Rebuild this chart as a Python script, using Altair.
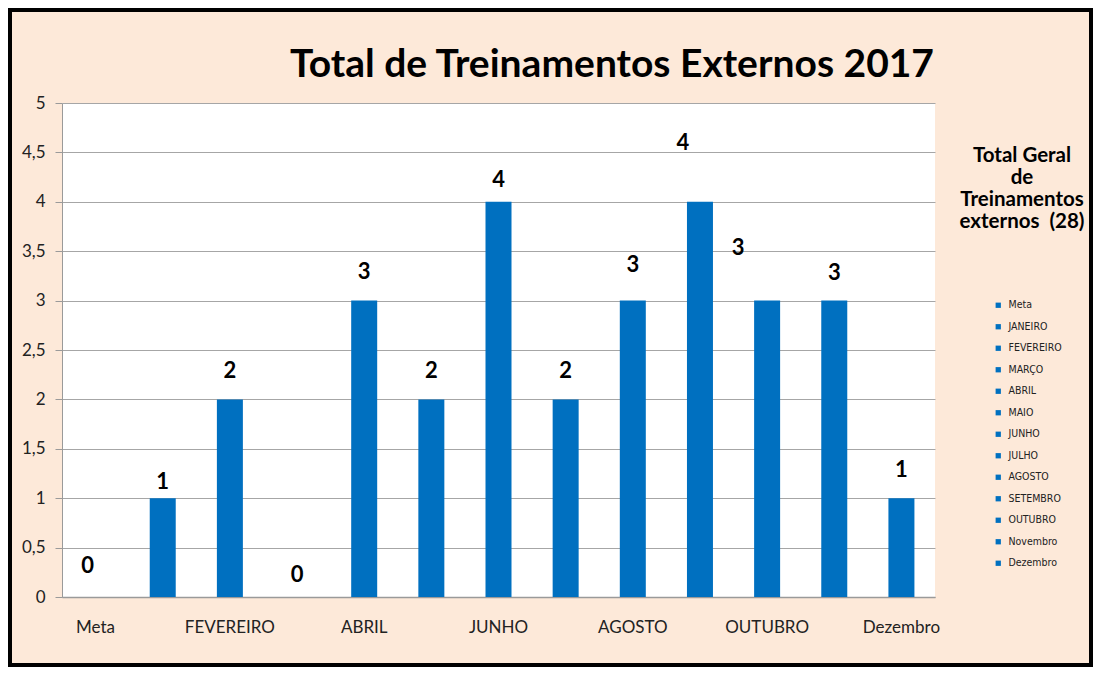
import altair as alt
import pandas as pd

months = ["Meta", "JANEIRO", "FEVEREIRO", "MARÇO", "ABRIL", "MAIO", "JUNHO",
          "JULHO", "AGOSTO", "SETEMBRO", "OUTUBRO", "Novembro", "Dezembro"]
values = [0, 1, 2, 0, 3, 2, 4, 2, 3, 4, 3, 3, 1]
# height (in data units) at which each value label sits
label_y = [0.31, 1.16, 2.29, 0.22, 3.29, 2.29, 4.22, 2.29, 3.36, 4.6, 3.53, 3.28, 1.29]
shown_ticks = ["Meta", "FEVEREIRO", "ABRIL", "JUNHO", "AGOSTO", "OUTUBRO", "Dezembro"]
y_ticks = [0, 0.5, 1, 1.5, 2, 2.5, 3, 3.5, 4, 4.5, 5]
title_text = "Total de Treinamentos Externos 2017"
side_title = ["Total Geral", "de", "Treinamentos", "externos\u00a0 (28)"]

df = pd.DataFrame({"mes": months, "valor": values, "label_y": label_y})
one = pd.DataFrame({"k": [0]})

BLUE = "#0070C0"
BG = "#FDE9D9"
W, H = 873, 494

shown_js = "[" + ",".join("'" + s + "'" for s in shown_ticks) + "]"

x_enc = alt.X("mes:N", sort=months, title=None,
              scale=alt.Scale(domain=months, paddingInner=0.0, paddingOuter=0.0),
              axis=alt.Axis(labelExpr=f"indexof({shown_js}, datum.value) >= 0 ? datum.value : ''",
                            labelAngle=0, labelFont="Lato",
                            labelFontSize=17, labelColor="#222222", labelPadding=22,
                            labelOverlap=False, labelFlush=False, labelBound=False,
                            ticks=False, domainColor="#9A9A9A", domainWidth=1.5,
                            grid=False))
y_scale = alt.Scale(domain=[0, 5], nice=False)

base = alt.Chart(df)

bars = base.mark_bar(size=26).encode(
    x=x_enc,
    y=alt.Y("valor:Q", scale=y_scale, title=None,
            axis=alt.Axis(values=y_ticks, labelExpr="replace(format(datum.value, '.1~f'), '.', ',')",
                          labelFont="Lato", labelFontSize=17, labelColor="#222222",
                          labelPadding=10, tickSize=7, tickColor="#9A9A9A",
                          domainColor="#9A9A9A", gridColor="#A6A6A6", gridWidth=1.2)),
    color=alt.Color("mes:N", sort=months,
                    scale=alt.Scale(domain=months, range=[BLUE] * len(months)),
                    legend=alt.Legend(title=None, orient="none", legendX=931, legendY=197,
                                      symbolType="square", symbolSize=28,
                                      labelFont="DejaVu Sans Condensed, Liberation Sans Narrow, sans-serif",
                                      labelFontSize=10.5, labelColor="#222222", rowPadding=10.5,
                                      labelOffset=5, symbolStrokeWidth=0)),
)

def labels(filter_expr, dx):
    return base.transform_filter(filter_expr).mark_text(
        font="Lato", fontWeight="bold", fontSize=22, color="#000000",
        baseline="middle", dx=dx
    ).encode(
        x=alt.X("mes:N", sort=months),
        y=alt.Y("label_y:Q", scale=y_scale),
        text=alt.Text("valor:Q"),
    )

lab_main = labels("datum.mes != 'Meta' && datum.mes != 'SETEMBRO' && datum.mes != 'OUTUBRO'", 0)
lab_meta = labels("datum.mes == 'Meta'", -8)
lab_set = labels("datum.mes == 'SETEMBRO'", -17)
lab_out = labels("datum.mes == 'OUTUBRO'", -29)

title = alt.Chart(one).mark_text(
    font="Lato", fontWeight="bold", fontSize=39, color="#000000",
    align="center", baseline="middle"
).encode(x=alt.value(550), y=alt.value(-38), text=alt.value(title_text))

side = alt.Chart(one).mark_text(
    font="Lato", fontWeight="bold", fontSize=20.5, color="#000000",
    align="center", baseline="middle", lineHeight=22
).encode(x=alt.value(960), y=alt.value(53), text=alt.value(side_title))

border = alt.Chart(one).mark_rect(
    fillOpacity=0, stroke="#000000", strokeWidth=4
).encode(x=alt.value(-52), x2=alt.value(W + 156), y=alt.value(-93), y2=alt.value(H + 68))

chart = alt.layer(border, bars, lab_main, lab_meta, lab_set, lab_out, title, side).properties(
    width=W, height=H,
    autosize=alt.AutoSizeParams(type="none"),
    padding={"left": 54, "top": 95, "right": 158, "bottom": 70},
    background=BG,
).configure_view(fill="#FFFFFF", stroke=None)

chart.save("out.html", embed_options={"renderer": "svg", "actions": False})
